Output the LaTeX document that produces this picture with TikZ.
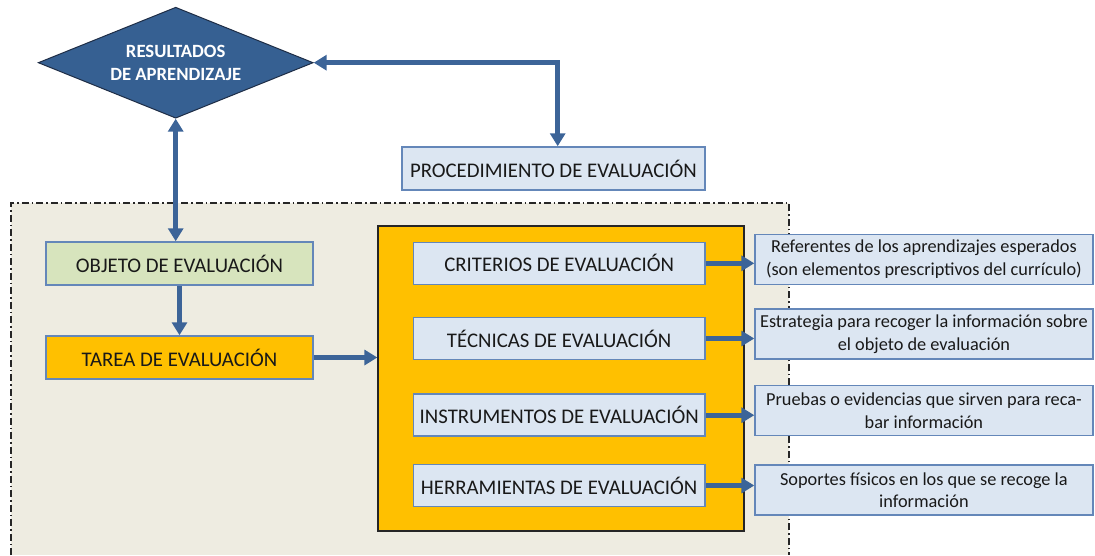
\documentclass[tikz,border=0pt]{standalone}
\usepackage{fontspec}
\setmainfont{Carlito}
\usetikzlibrary{shapes.geometric,arrows.meta}
\definecolor{arrowblue}{RGB}{60,100,152}
\definecolor{diafill}{RGB}{54,96,146}
\definecolor{diaborder}{RGB}{30,45,70}
\definecolor{boxborder}{RGB}{100,135,185}
\definecolor{lightblue}{RGB}{220,230,242}
\definecolor{lightgreen}{RGB}{215,228,189}
\definecolor{orangefill}{RGB}{255,192,0}
\definecolor{beige}{RGB}{238,236,225}
\tikzset{
  lab/.style={draw=boxborder, line width=1.5pt, inner sep=0pt, font=\fontsize{20.8}{24}\selectfont, text=black!90},
  desc/.style={draw=boxborder, line width=1.5pt, fill=lightblue, inner sep=0pt, align=center, font=\fontsize{18.3}{22.5}\selectfont, text=black!90},
  conn/.style={draw=arrowblue, line width=4.8pt, -{Triangle[length=13pt,width=15pt]}},
  biconn/.style={draw=arrowblue, line width=4.8pt, {Triangle[length=13pt,width=15pt]}-{Triangle[length=13pt,width=15pt]}},
  region/.style={draw=black!85, line width=1.2pt, dash pattern=on 7pt off 3pt on 1.5pt off 3pt}
}
\begin{document}
\begin{tikzpicture}[x=1pt,y=-1pt]
\useasboundingbox (0,0) rectangle (1095,555);
% background region
\fill[beige] (11,203) rectangle (789,555);
\draw[region] (11,555) -- (11,203) -- (789,203) -- (789,555);

% diamond
\node[diamond, shape aspect=2.48, draw=diaborder, line width=1pt, fill=diafill, inner sep=0pt,
      minimum width=275pt, minimum height=111pt, align=center, text=white,
      font=\fontsize{18.7}{22.5}\selectfont\bfseries] (res) at (175.7,62.7) {RESULTADOS\\DE APRENDIZAJE};

\node[lab, fill=lightblue, minimum width=303pt, minimum height=43pt] (proc) at (553.4,168.5) {PROCEDIMIENTO DE EVALUACIÓN};

\node[lab, fill=lightgreen, minimum width=267pt, minimum height=43pt] (obj) at (179.5,263.5) {OBJETO DE EVALUACIÓN};
\node[lab, fill=orangefill, minimum width=267pt, minimum height=43pt] (tarea) at (179.5,357.5) {TAREA DE EVALUACIÓN};

\node[draw=black!85, line width=2pt, fill=orangefill, minimum width=365.7pt, minimum height=305pt, inner sep=0pt] (big) at (561.2,378.2) {};

\node[lab, fill=lightblue, minimum width=291.7pt, minimum height=42pt] (crit) at (559.2,263.3) {CRITERIOS DE EVALUACIÓN};
\node[lab, fill=lightblue, minimum width=291.7pt, minimum height=42pt] (tec) at (559.2,338.5) {TÉCNICAS DE EVALUACIÓN};
\node[lab, fill=lightblue, minimum width=291.7pt, minimum height=42pt] (inst) at (559.2,415.2) {INSTRUMENTOS DE EVALUACIÓN};
\node[lab, fill=lightblue, minimum width=291.7pt, minimum height=42pt] (herr) at (559.2,485.5) {HERRAMIENTAS DE EVALUACIÓN};

\node[desc, minimum width=337.7pt, minimum height=50pt] (r1) at (923.9,259.3) {Referentes de los aprendizajes esperados\\(son elementos prescriptivos del currículo)};
\node[desc, minimum width=337.7pt, minimum height=50pt] (r2) at (923.9,334) {Estrategia para recoger la información sobre\\el objeto de evaluación};
\node[desc, minimum width=337.7pt, minimum height=50pt] (r3) at (923.9,410.7) {Pruebas o evidencias que sirven para reca-\\bar información};
\node[desc, minimum width=337.7pt, minimum height=50pt] (r4) at (923.9,490) {Soportes físicos en los que se recoge la\\información};

% connectors
\coordinate (corner) at (557.7,62.7);
\draw[biconn] (res.east) -- (corner) -- (corner |- proc.north);
\draw[biconn] (res.south) -- (res.south |- obj.north);
\draw[conn] (obj.south) -- (tarea.north);
\draw[conn] (tarea.east) -- (tarea.east -| big.west);
\draw[conn] (crit.east) -- (crit.east -| r1.west);
\draw[conn] (tec.east) -- (tec.east -| r2.west);
\draw[conn] (inst.east) -- (inst.east -| r3.west);
\draw[conn] (herr.east) -- (herr.east -| r4.west);
\end{tikzpicture}
\end{document}
